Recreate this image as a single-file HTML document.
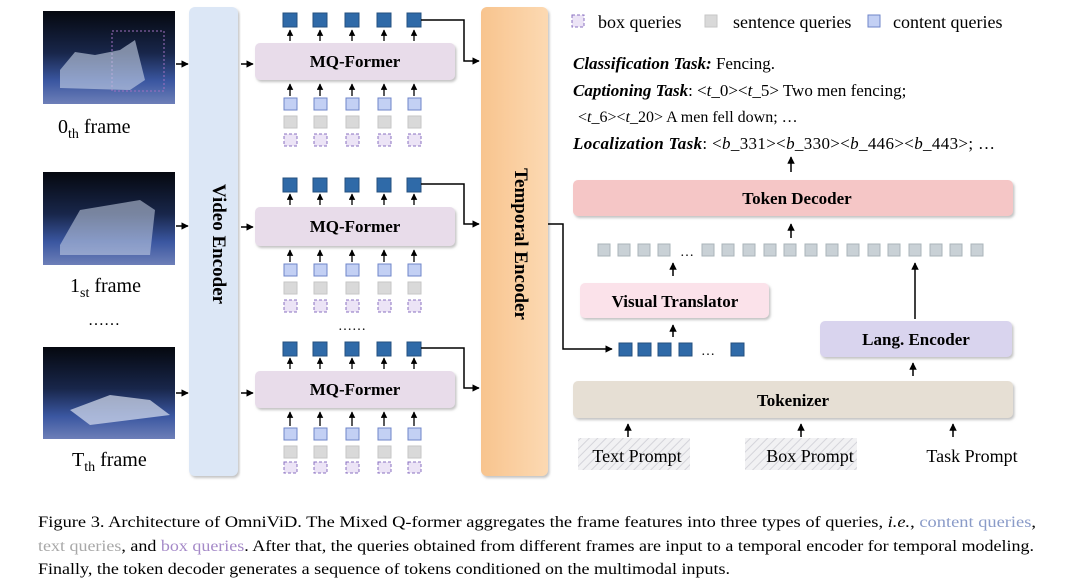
<!DOCTYPE html>
<html><head><meta charset="utf-8"><style>
html,body{margin:0;padding:0;background:#fff;}
svg{display:block;font-family:"Liberation Serif",serif;}
</style></head><body>
<svg width="1080" height="584" viewBox="0 0 1080 584" xmlns="http://www.w3.org/2000/svg">
<defs>
<marker id="ah" viewBox="0 0 10 10" refX="9" refY="5" markerWidth="5" markerHeight="5" orient="auto"><path d="M0,0L10,5L0,10z" fill="#000"/></marker>
<linearGradient id="fr" x1="0" y1="0" x2="0" y2="1"><stop offset="0" stop-color="#05080f"/><stop offset="0.45" stop-color="#18264a"/><stop offset="0.75" stop-color="#3a56a0"/><stop offset="1" stop-color="#6d7fb8"/></linearGradient>
<linearGradient id="te" x1="0" y1="0" x2="1" y2="0"><stop offset="0" stop-color="#f8c48e"/><stop offset="1" stop-color="#fcd9b2"/></linearGradient>
<pattern id="hat" width="6" height="6" patternUnits="userSpaceOnUse" patternTransform="rotate(45)"><rect width="6" height="6" fill="#f1f1f3"/><line x1="0" y1="0" x2="0" y2="6" stroke="#d4d4da" stroke-width="2"/></pattern>
<filter id="sh" x="-5%" y="-20%" width="110%" height="150%"><feDropShadow dx="1.5" dy="2" stdDeviation="1.2" flood-color="#999" flood-opacity="0.6"/></filter>
</defs>

<g>
<rect x="43" y="11" width="132" height="93" fill="url(#fr)"/>
<rect x="112" y="31" width="52" height="60" fill="none" stroke="#a070c0" stroke-dasharray="2,2"/>
<path d="M60,70 L75,52 L95,55 L120,50 L135,40 L145,80 L130,90 L60,88z" fill="#c8d4e8" opacity="0.6"/>
<rect x="43" y="172" width="132" height="93" fill="url(#fr)"/>
<path d="M60,245 L80,210 L110,205 L140,200 L155,210 L150,255 L60,255z" fill="#c8d4e8" opacity="0.55"/>
<rect x="43" y="347" width="132" height="92" fill="url(#fr)"/>
<path d="M70,410 L110,395 L150,400 L170,415 L90,425z" fill="#d8e0f0" opacity="0.7"/>
</g>
<text x="58" y="133" font-size="20">0<tspan font-size="14" dy="5">th</tspan><tspan dy="-5"> frame</tspan></text>
<text x="70" y="292" font-size="20">1<tspan font-size="14" dy="5">st</tspan><tspan dy="-5"> frame</tspan></text>
<text x="88" y="325" font-size="16">……</text>
<text x="72" y="466" font-size="20">T<tspan font-size="14" dy="5">th</tspan><tspan dy="-5"> frame</tspan></text>

<g stroke="#000" stroke-width="1.5" marker-end="url(#ah)">
<line x1="176" y1="64" x2="188" y2="64"/><line x1="176" y1="226" x2="188" y2="226"/><line x1="176" y1="393" x2="188" y2="393"/>
<line x1="241" y1="64" x2="253" y2="64"/><line x1="241" y1="227" x2="253" y2="227"/><line x1="241" y1="393" x2="253" y2="393"/>
</g>

<rect x="189" y="7" width="49" height="469" rx="6" fill="#dce7f6" filter="url(#sh)"/>
<text transform="translate(213,244) rotate(90)" text-anchor="middle" font-size="19" font-weight="bold">Video Encoder</text>
<rect x="481" y="7" width="67" height="469" rx="6" fill="url(#te)" filter="url(#sh)"/>
<text transform="translate(515,244) rotate(90)" text-anchor="middle" font-size="19" font-weight="bold">Temporal Encoder</text>

<g font-size="17" font-weight="bold" text-anchor="middle">
<rect x="255" y="43" width="200" height="37" rx="5" fill="#e8dcea" filter="url(#sh)"/><text x="355" y="67">MQ-Former</text>
<rect x="255" y="207" width="200" height="39" rx="5" fill="#e8dcea" filter="url(#sh)"/><text x="355" y="232">MQ-Former</text>
<rect x="255" y="371" width="200" height="37" rx="5" fill="#e8dcea" filter="url(#sh)"/><text x="355" y="395">MQ-Former</text>
</g>
<text x="338" y="330" font-size="14">……</text>

<g fill="#2f6aa8" stroke="#24507f" stroke-width="1">
<rect x="283" y="13" width="14" height="14"/><rect x="313" y="13" width="14" height="14"/><rect x="345" y="13" width="14" height="14"/><rect x="377" y="13" width="14" height="14"/><rect x="407" y="13" width="14" height="14"/>
<rect x="283" y="178" width="14" height="14"/><rect x="313" y="178" width="14" height="14"/><rect x="345" y="178" width="14" height="14"/><rect x="377" y="178" width="14" height="14"/><rect x="407" y="178" width="14" height="14"/>
<rect x="283" y="342" width="14" height="14"/><rect x="313" y="342" width="14" height="14"/><rect x="345" y="342" width="14" height="14"/><rect x="377" y="342" width="14" height="14"/><rect x="407" y="342" width="14" height="14"/>
</g>
<g stroke="#000" stroke-width="1.3" marker-end="url(#ah)">
<line x1="290" y1="41" x2="290" y2="30"/><line x1="320" y1="41" x2="320" y2="30"/><line x1="352" y1="41" x2="352" y2="30"/><line x1="384" y1="41" x2="384" y2="30"/><line x1="414" y1="41" x2="414" y2="30"/>
<line x1="290" y1="205" x2="290" y2="194"/><line x1="320" y1="205" x2="320" y2="194"/><line x1="352" y1="205" x2="352" y2="194"/><line x1="384" y1="205" x2="384" y2="194"/><line x1="414" y1="205" x2="414" y2="194"/>
<line x1="290" y1="369" x2="290" y2="358"/><line x1="320" y1="369" x2="320" y2="358"/><line x1="352" y1="369" x2="352" y2="358"/><line x1="384" y1="369" x2="384" y2="358"/><line x1="414" y1="369" x2="414" y2="358"/>
<line x1="290" y1="96" x2="290" y2="84"/><line x1="320" y1="96" x2="320" y2="84"/><line x1="352" y1="96" x2="352" y2="84"/><line x1="384" y1="96" x2="384" y2="84"/><line x1="414" y1="96" x2="414" y2="84"/>
<line x1="290" y1="262" x2="290" y2="250"/><line x1="320" y1="262" x2="320" y2="250"/><line x1="352" y1="262" x2="352" y2="250"/><line x1="384" y1="262" x2="384" y2="250"/><line x1="414" y1="262" x2="414" y2="250"/>
<line x1="290" y1="426" x2="290" y2="412"/><line x1="320" y1="426" x2="320" y2="412"/><line x1="352" y1="426" x2="352" y2="412"/><line x1="384" y1="426" x2="384" y2="412"/><line x1="414" y1="426" x2="414" y2="412"/>
</g>
<g fill="#c3d0f4" stroke="#6f86c8">
<rect x="284" y="98" width="13" height="12"/><rect x="314" y="98" width="13" height="12"/><rect x="346" y="98" width="13" height="12"/><rect x="378" y="98" width="13" height="12"/><rect x="408" y="98" width="13" height="12"/>
<rect x="284" y="264" width="13" height="12"/><rect x="314" y="264" width="13" height="12"/><rect x="346" y="264" width="13" height="12"/><rect x="378" y="264" width="13" height="12"/><rect x="408" y="264" width="13" height="12"/>
<rect x="284" y="428" width="13" height="12"/><rect x="314" y="428" width="13" height="12"/><rect x="346" y="428" width="13" height="12"/><rect x="378" y="428" width="13" height="12"/><rect x="408" y="428" width="13" height="12"/>
</g>
<g fill="#d9d9d9" stroke="#c6c6c6">
<rect x="284" y="116" width="13" height="12"/><rect x="314" y="116" width="13" height="12"/><rect x="346" y="116" width="13" height="12"/><rect x="378" y="116" width="13" height="12"/><rect x="408" y="116" width="13" height="12"/>
<rect x="284" y="282" width="13" height="12"/><rect x="314" y="282" width="13" height="12"/><rect x="346" y="282" width="13" height="12"/><rect x="378" y="282" width="13" height="12"/><rect x="408" y="282" width="13" height="12"/>
<rect x="284" y="446" width="13" height="12"/><rect x="314" y="446" width="13" height="12"/><rect x="346" y="446" width="13" height="12"/><rect x="378" y="446" width="13" height="12"/><rect x="408" y="446" width="13" height="12"/>
</g>
<g fill="#ece4f6" stroke="#8a70c0" stroke-dasharray="3,2">
<rect x="284" y="134" width="13" height="12"/><rect x="314" y="134" width="13" height="12"/><rect x="346" y="134" width="13" height="12"/><rect x="378" y="134" width="13" height="12"/><rect x="408" y="134" width="13" height="12"/>
<rect x="284" y="300" width="13" height="12"/><rect x="314" y="300" width="13" height="12"/><rect x="346" y="300" width="13" height="12"/><rect x="378" y="300" width="13" height="12"/><rect x="408" y="300" width="13" height="12"/>
<rect x="284" y="462" width="13" height="11"/><rect x="314" y="462" width="13" height="11"/><rect x="346" y="462" width="13" height="11"/><rect x="378" y="462" width="13" height="11"/><rect x="408" y="462" width="13" height="11"/>
</g>

<g stroke="#000" stroke-width="1.5" fill="none" marker-end="url(#ah)">
<path d="M421,20H464V61H479"/>
<path d="M421,184H464V224H479"/>
<path d="M421,348H464V388H479"/>
<path d="M548,224H563V349H612"/>
</g>

<g font-size="18">
<rect x="572" y="15" width="12" height="12" fill="#ece4f6" stroke="#8a70c0" stroke-dasharray="3,2"/>
<text x="598" y="28">box queries</text>
<rect x="705" y="15" width="12" height="12" fill="#d9d9d9" stroke="#c6c6c6"/>
<text x="733" y="28">sentence queries</text>
<rect x="868" y="15" width="12" height="12" fill="#c3d0f4" stroke="#6f86c8"/>
<text x="893" y="28">content queries</text>
</g>
<g font-size="17">
<text x="573" y="69"><tspan font-weight="bold" font-style="italic">Classification Task:</tspan> Fencing.</text>
<text x="573" y="96"><tspan font-weight="bold" font-style="italic">Captioning Task</tspan>: &lt;<tspan font-style="italic">t</tspan>_0&gt;&lt;<tspan font-style="italic">t</tspan>_5&gt; Two men fencing;</text>
<text x="578" y="122" font-size="16">&lt;<tspan font-style="italic">t</tspan>_6&gt;&lt;<tspan font-style="italic">t</tspan>_20&gt; A men fell down; …</text>
<text x="573" y="149" textLength="422"><tspan font-weight="bold" font-style="italic">Localization Task</tspan>: &lt;<tspan font-style="italic">b</tspan>_331&gt;&lt;<tspan font-style="italic">b</tspan>_330&gt;&lt;<tspan font-style="italic">b</tspan>_446&gt;&lt;<tspan font-style="italic">b</tspan>_443&gt;; …</text>
</g>

<g font-size="17" font-weight="bold" text-anchor="middle">
<rect x="573" y="180" width="440" height="36" rx="5" fill="#f5c6c6" filter="url(#sh)"/><text x="797" y="204">Token Decoder</text>
<rect x="580" y="283" width="189" height="35" rx="5" fill="#fbe2ea" filter="url(#sh)"/><text x="675" y="307">Visual Translator</text>
<rect x="820" y="321" width="192" height="36" rx="5" fill="#d9d4ee" filter="url(#sh)"/><text x="916" y="345">Lang. Encoder</text>
<rect x="573" y="381" width="440" height="37" rx="5" fill="#e6dfd4" filter="url(#sh)"/><text x="793" y="406">Tokenizer</text>
</g>

<g stroke="#000" stroke-width="1.5" marker-end="url(#ah)">
<line x1="791" y1="172" x2="791" y2="157"/>
<line x1="791" y1="238" x2="791" y2="224"/>
<line x1="673" y1="276" x2="673" y2="263"/>
<line x1="673" y1="337" x2="673" y2="325"/>
<line x1="915" y1="319" x2="915" y2="263"/>
<line x1="913" y1="376" x2="913" y2="363"/>
<line x1="628" y1="437" x2="628" y2="424"/>
<line x1="801" y1="437" x2="801" y2="424"/>
<line x1="953" y1="437" x2="953" y2="424"/>
</g>

<g fill="#c9d1d6" stroke="#aab4ba">
<rect x="598" y="244" width="12" height="12"/><rect x="618" y="244" width="12" height="12"/><rect x="638" y="244" width="12" height="12"/><rect x="658" y="244" width="12" height="12"/>
<rect x="702" y="244" width="12" height="12"/><rect x="722" y="244" width="12" height="12"/><rect x="743" y="244" width="12" height="12"/><rect x="764" y="244" width="12" height="12"/><rect x="784" y="244" width="12" height="12"/><rect x="805" y="244" width="12" height="12"/><rect x="826" y="244" width="12" height="12"/><rect x="847" y="244" width="12" height="12"/><rect x="868" y="244" width="12" height="12"/><rect x="888" y="244" width="12" height="12"/><rect x="909" y="244" width="12" height="12"/><rect x="930" y="244" width="12" height="12"/><rect x="950" y="244" width="12" height="12"/><rect x="971" y="244" width="12" height="12"/>
</g>
<text x="680" y="256" font-size="14">…</text>
<g fill="#2f6aa8" stroke="#24507f">
<rect x="619" y="343" width="13" height="13"/><rect x="638" y="343" width="13" height="13"/><rect x="658" y="343" width="13" height="13"/><rect x="679" y="343" width="13" height="13"/><rect x="731" y="343" width="13" height="13"/>
</g>
<text x="701" y="355" font-size="14">…</text>

<rect x="578" y="438" width="112" height="32" fill="url(#hat)"/>
<rect x="745" y="438" width="112" height="32" fill="url(#hat)"/>
<g font-size="18" text-anchor="middle">
<text x="637" y="462">Text Prompt</text>
<text x="810" y="462">Box Prompt</text>
<text x="972" y="462">Task Prompt</text>
</g>

<g font-size="16">
<text x="38" y="527" textLength="998" lengthAdjust="spacingAndGlyphs">Figure 3.  Architecture of OmniViD. The Mixed Q-former aggregates the frame features into three types of queries, <tspan font-style="italic">i.e.</tspan>, <tspan fill="#8a9bc8">content queries</tspan>,</text>
<text x="38" y="551" textLength="996" lengthAdjust="spacingAndGlyphs"><tspan fill="#a8a8a8">text queries</tspan>, and <tspan fill="#a58ac8">box queries</tspan>. After that, the queries obtained from different frames are input to a temporal encoder for temporal modeling.</text>
<text x="38" y="574" textLength="692" lengthAdjust="spacingAndGlyphs">Finally, the token decoder generates a sequence of tokens conditioned on the multimodal inputs.</text>
</g>
</svg>
</body></html>
